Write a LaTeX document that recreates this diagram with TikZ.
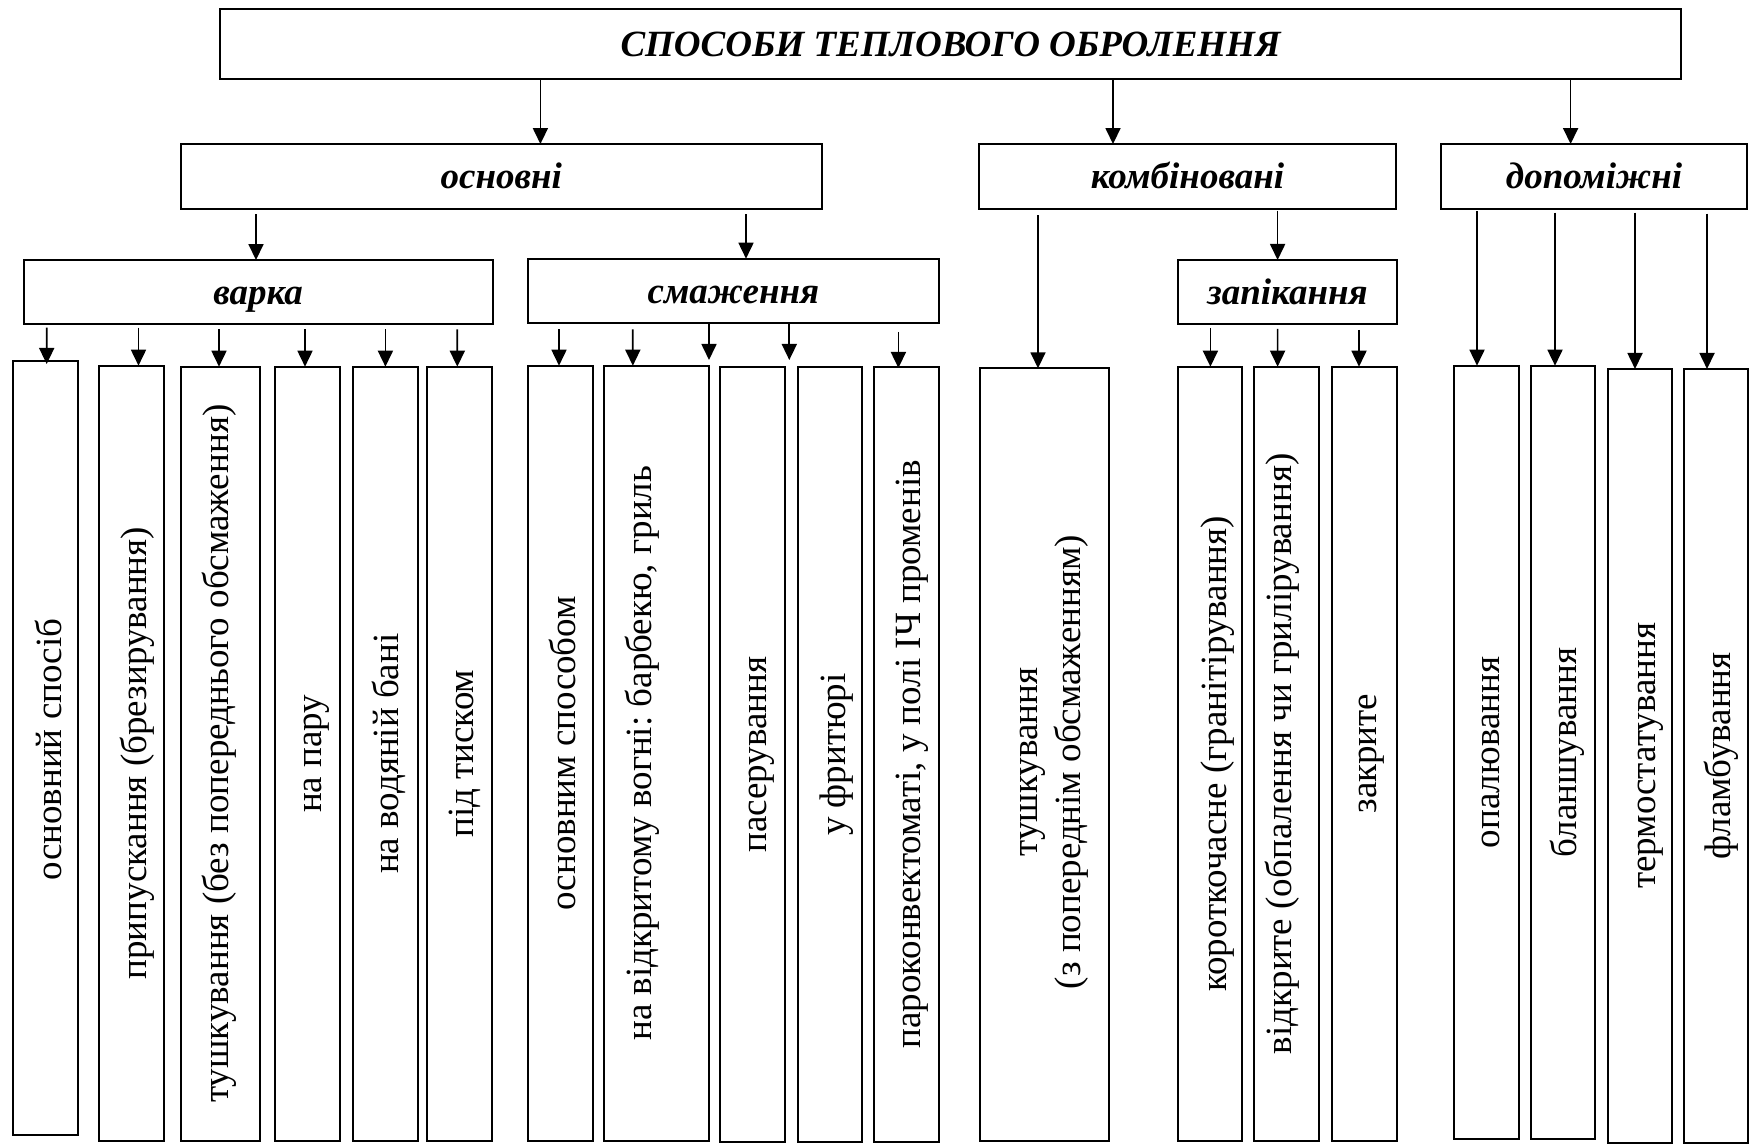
\documentclass[tikz,border=0pt]{standalone}
\usepackage{fontspec}
\setmainfont{Liberation Serif}
\usetikzlibrary{arrows.meta,calc}
\frenchspacing
\begin{document}
\begin{tikzpicture}[x=0.5pt,y=-0.5pt,
  box/.style={draw, line width=1pt, inner sep=0pt, outer sep=0pt, fill=white},
  head/.style={box, font=\fontsize{18.5pt}{21.5pt}\selectfont\bfseries\itshape,
    text height=16.5pt, text depth=4pt},
  leaf/.style={box},
  vtext/.style={rotate=90, inner sep=0pt, outer sep=0pt,
    font=\fontsize{18.5pt}{21.5pt}\selectfont, text height=16.5pt, text depth=4pt},
  vtwo/.style={rotate=90, inner sep=0pt, outer sep=0pt, align=center,
    font=\fontsize{18.5pt}{21.5pt}\selectfont},
  arr/.style={line width=0.85pt, -{Triangle[length=8pt,width=7.5pt]}}]
\useasboundingbox (0,0) rectangle (1749,1144);

% ---- headings ----
\node[head, minimum width=730.5pt, minimum height=35pt] (title) at (950.5,44) {СПОСОБИ ТЕПЛОВОГО ОБРОЛЕННЯ};
\node[head, minimum width=320.7pt, minimum height=32.35pt] (osn) at (501.3,176.4) {основні};
\node[head, minimum width=208.5pt, minimum height=32.35pt] (komb) at (1187.5,176.4) {комбіновані};
\node[head, minimum width=153pt, minimum height=32.35pt] (dop) at (1594,176.4) {допоміжні};
\node[head, minimum width=234.4pt, minimum height=31.85pt] (varka) at (258.1,291.9) {варка};
\node[head, minimum width=205.5pt, minimum height=32.3pt] (smazh) at (733.5,291) {смаження};
\node[head, minimum width=109.5pt, minimum height=32pt] (zapik) at (1287.5,292) {запікання};

% ---- leaf boxes ----
\node[leaf, minimum width=32.3pt,  minimum height=387.15pt] (b1)  at (45.7,747.85) {};
\node[leaf, minimum width=32.5pt,  minimum height=387.5pt]  (b2)  at (131.5,753.2) {};
\node[leaf, minimum width=39.7pt,  minimum height=387pt]    (b3)  at (220.3,753.7) {};
\node[leaf, minimum width=32.5pt,  minimum height=387pt]    (b4)  at (307.3,753.7) {};
\node[leaf, minimum width=32.35pt, minimum height=387pt]    (b5)  at (385.15,753.7) {};
\node[leaf, minimum width=32.5pt,  minimum height=387pt]    (b6)  at (459.5,753.7) {};
\node[leaf, minimum width=32.3pt,  minimum height=387.5pt]  (b7)  at (560.3,753.2) {};
\node[leaf, minimum width=52.65pt, minimum height=387.5pt]  (b8)  at (656.35,753.2) {};
\node[leaf, minimum width=32.35pt, minimum height=387.35pt] (b9)  at (752.35,754.65) {};
\node[leaf, minimum width=32.2pt,  minimum height=387.35pt] (b10) at (830.2,754.65) {};
\node[leaf, minimum width=32.3pt,  minimum height=387.1pt]  (b11) at (906.3,754.4) {};
\node[leaf, minimum width=64.5pt,  minimum height=386.35pt] (b12) at (1044,754.65) {};
\node[leaf, minimum width=32pt,    minimum height=387.15pt] (b13) at (1210,753.85) {};
\node[leaf, minimum width=32.05pt, minimum height=387.15pt] (b14) at (1286.45,753.85) {};
\node[leaf, minimum width=32.4pt,  minimum height=386.9pt]  (b15) at (1364.4,753.6) {};
\node[leaf, minimum width=32.25pt, minimum height=386.8pt]  (b16) at (1486.25,752.5) {};
\node[leaf, minimum width=32.25pt, minimum height=386.8pt]  (b17) at (1562.75,752.5) {};
\node[leaf, minimum width=32.2pt,  minimum height=386.85pt] (b18) at (1640.2,755.85) {};
\node[leaf, minimum width=32pt,    minimum height=386.85pt] (b19) at (1716,755.85) {};

% ---- vertical labels ----
\node[vtext] (t1)  at ($(b1.center)+(3.5,1.6)$)  {основний спосіб};
\node[vtext] (t2)  at ($(b2.center)+(2.7,0)$)    {припускання (брезирування)};
\node[vtext] (t3)  at ($(b3.center)+(-4.5,0)$)   {тушкування (без попереднього обсмаження)};
\node[vtext] (t4)  at ($(b4.center)+(1.9,0)$)    {на пару};
\node[vtext] (t5)  at ($(b5.center)+(0.6,0)$)    {на водяній бані};
\node[vtext] (t6)  at ($(b6.center)+(1.3,0)$)    {під тиском};
\node[vtext] (t7)  at ($(b7.center)+(2.2,0)$)    {основним способом};
\node[vtext] (t8)  at ($(b8.center)+(-17.2,0)$)  {на відкритому вогні: барбекю, гриль};
\node[vtext] (t9)  at ($(b9.center)+(1.8,0)$)    {пасерування};
\node[vtext] (t10) at ($(b10.center)+(2.3,0)$)   {у фритюрі};
\node[vtext] (t11) at ($(b11.center)+(1.9,0)$)   {пароконвектоматі, у полі ІЧ променів};
\node[vtwo]  (t12) at ($(b12.center)+(6,7.5)$)   {\strut тушкування\\(з попереднім обсмаженням)\strut};
\node[vtext] (t13) at ($(b13.center)+(4.2,0)$)   {короткочасне (гранітірування)};
\node[vtext] (t14) at ($(b14.center)+(-7.3,0)$)  {відкрите (обпалення чи грилірування)};
\node[vtext] (t15) at ($(b15.center)+(-0.3,0)$)  {закрите};
\node[vtext] (t16) at ($(b16.center)+(1.2,0)$)   {опалювання};
\node[vtext] (t17) at ($(b17.center)+(1.4,0)$)   {бланшування};
\node[vtext] (t18) at ($(b18.center)+(2.3,0)$)   {термостатування};
\node[vtext] (t19) at ($(b19.center)+(1.5,0)$)   {фламбування};

% ---- connectors: level 1 -> level 2 ----
\draw[arr] ($(title.south)+(-410.1,0)$) -- ($(osn.north)+(39.1,0)$);
\draw[arr] ($(title.south)+(162.5,0)$)  -- ($(komb.north)+(-74.5,0)$);
\draw[arr] ($(title.south)+(620.1,0)$)  -- ($(dop.north)+(-23.4,0)$);

% ---- level 2 -> level 3 ----
\draw[arr] ($(osn.south)+(-245.3,5.3)$) -- ($(varka.north)+(-2.1,0)$);
\draw[arr] ($(osn.south)+(244.7,5.3)$)  -- ($(smazh.north)+(12.5,0)$);
\draw[arr] ($(komb.south)+(90.1,2)$)    -- ($(zapik.north)+(-9.9,0)$);
\draw[arr] ($(komb.south)+(-149.5,6.3)$) -- ($(b12.north)+(-6,0)$);

% ---- auxiliary methods ----
\draw[arr] ($(dop.south)+(-117,2.3)$) -- ($(b16.north)+(-9.25,0)$);
\draw[arr] ($(dop.south)+(-39,4)$)    -- ($(b17.north)+(-7.75,0)$);
\draw[arr] ($(dop.south)+(41,4)$)     -- ($(b18.north)+(-5.2,0)$);
\draw[arr] ($(dop.south)+(113,5)$)    -- ($(b19.north)+(-9,0)$);

% ---- boiling ----
\draw[arr] ($(varka.south)+(-211.4,4)$)  -- ($(b1.north)+(1,3.3)$);
\draw[arr] ($(varka.south)+(-119.6,4)$)  -- ($(b2.north)+(7,0)$);
\draw[arr] ($(varka.south)+(-39.1,5.6)$) -- ($(b3.north)+(-1.3,0)$);
\draw[arr] ($(varka.south)+(46.9,5.6)$)  -- ($(b4.north)+(-2.3,0)$);
\draw[arr] ($(varka.south)+(127.3,5.6)$) -- ($(b5.north)+(0.25,0)$);
\draw[arr] ($(varka.south)+(199.2,5.6)$) -- ($(b6.north)+(-2.2,0)$);

% ---- frying ----
\draw[arr] ($(smazh.south)+(-174.5,6)$)  -- ($(b7.north)+(-1.3,0)$);
\draw[arr] ($(smazh.south)+(-100.7,6)$)  -- ($(b8.north)+(-23.5,0)$);
\draw[arr] ($(smazh.south)+(-24.5,0)$)   -- ($(b9.north)+(-43.35,-7.3)$);
\draw[arr] ($(smazh.south)+(55.8,0)$)    -- ($(b10.north)+(-40.9,-7.3)$);
\draw[arr] ($(smazh.south)+(164.9,8.7)$) -- ($(b11.north)+(-7.9,0.7)$);

% ---- baking ----
\draw[arr] ($(zapik.south)+(-77.1,4)$) -- ($(b13.north)+(0.4,0)$);
\draw[arr] ($(zapik.south)+(-9.9,5)$)  -- ($(b14.north)+(-8.85,0)$);
\draw[arr] ($(zapik.south)+(71.5,6)$)  -- ($(b15.north)+(-5.4,0)$);
\end{tikzpicture}
\end{document}
